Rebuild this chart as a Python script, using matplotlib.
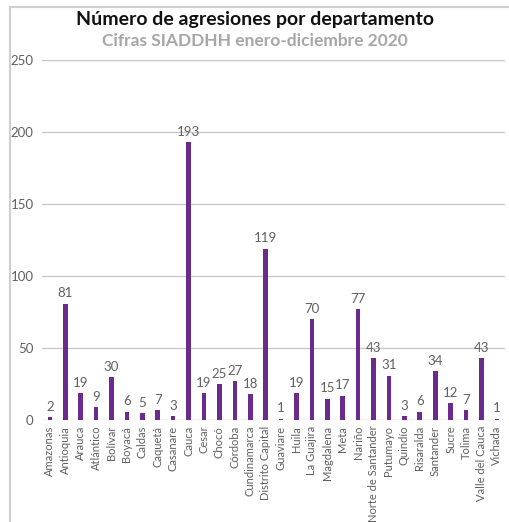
import matplotlib
matplotlib.use("Agg")
import matplotlib.pyplot as plt
from matplotlib.lines import Line2D

departments = ["Amazonas", "Antioquia", "Arauca", "Atlántico", "Bolívar", "Boyacá",
               "Caldas", "Caquetá", "Casanare", "Cauca", "Cesar", "Chocó", "Córdoba",
               "Cundinamarca", "Distrito Capital", "Guaviare", "Huila", "La Guajira",
               "Magdalena", "Meta", "Nariño", "Norte de Santander", "Putumayo",
               "Quindío", "Risaralda", "Santander", "Sucre", "Tolima",
               "Valle del Cauca", "Vichada"]
agresiones = [2, 81, 19, 9, 30, 6, 5, 7, 3, 193, 19, 25, 27, 18, 119, 1, 19, 70,
              15, 17, 77, 43, 31, 3, 6, 34, 12, 7, 43, 1]
yticks = [0, 50, 100, 150, 200, 250]

title = "Número de agresiones por departamento"
subtitle = "Cifras SIADDHH enero-diciembre 2020"

plt.rcParams['font.family'] = ['Lato', 'DejaVu Sans']

fig = plt.figure(figsize=(5.10, 5.22), dpi=100)
ax = fig.add_axes([0.082, 0.195, 0.908, 0.69])

purple = "#6a2a8e"
txtgray = "#606060"
x = list(range(len(departments)))
ax.bar(x, agresiones, width=0.3, color=purple, zorder=3)
for xi, v in zip(x, agresiones):
    ax.text(xi, v + 3, str(v), ha="center", va="bottom", fontsize=9.5,
            color=txtgray, zorder=4)

ax.set_ylim(0, 250)
ax.set_xlim(-0.52, len(departments) - 1 + 0.52)
ax.set_yticks(yticks)
ax.set_yticklabels([str(t) for t in yticks], fontsize=9.5, color=txtgray)
ax.set_xticks(x)
ax.set_xticklabels(departments, rotation=90, fontsize=8, color=txtgray)
ax.tick_params(axis="x", length=0, pad=4)
ax.tick_params(axis="y", length=0, pad=6)
ax.grid(axis="y", color="#c8c8c8", linewidth=1, zorder=0)
for s in ax.spines.values():
    s.set_visible(False)

fig.text(0.5, 0.963, title, ha="center", va="center", fontsize=14,
         fontweight="bold", color="#111111")
fig.text(0.5, 0.922, subtitle, ha="center", va="center", fontsize=12.5,
         fontweight="bold", color="#a6a6a6")

# frame lines (top and left)
fig.add_artist(Line2D([0.02, 1.0], [0.986, 0.986], color="#cfcfcf", linewidth=1.5,
                      transform=fig.transFigure))
fig.add_artist(Line2D([0.02, 0.02], [0.0, 0.986], color="#cfcfcf", linewidth=1.5,
                      transform=fig.transFigure))

fig.savefig("out.png", dpi=100)
